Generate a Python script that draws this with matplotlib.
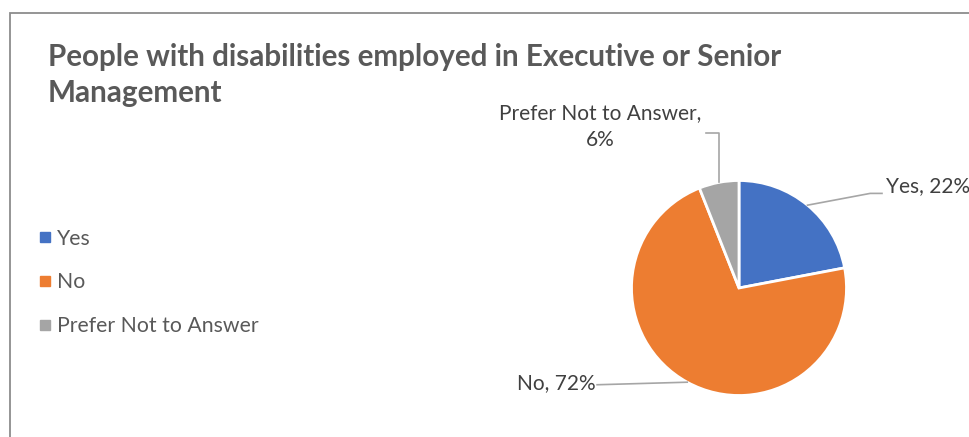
import numpy as np
import matplotlib.pyplot as plt
from matplotlib.lines import Line2D
from matplotlib.patches import Rectangle

# данные диаграммы
categories = ['Yes', 'No', 'Prefer Not to Answer']
shares = [22, 72, 6]
colors = ['#4472c4', '#ed7d31', '#a5a5a5']
title_lines = ['People with disabilities employed in Executive or Senior',
               'Management']

W, H = 970, 437
fig = plt.figure(figsize=(W / 100, H / 100), dpi=100)
plt.rcParams['font.family'] = ['Lato', 'DejaVu Sans']

# рамка области диаграммы (справа и снизу обрезана)
fig.patches.append(Rectangle((10 / W, -0.1), 1.2, (H - 13) / H + 0.1,
                             transform=fig.transFigure, fill=False,
                             edgecolor='#8c8c8c', linewidth=1.3))

# заголовок в две строки
for i, line in enumerate(title_lines):
    fig.text(48 / W, 1 - (57 + 36 * i) / H, line, ha='left', va='center',
             fontsize=21.3, fontweight='bold', color='#595959')

# круг: центр (739, 288), радиус ~107 px
cx, cy, r = 739, 288, 107.5
ax = fig.add_axes([(cx - r) / W, (H - cy - r) / H, 2 * r / W, 2 * r / H])
wedges, _ = ax.pie(shares, colors=colors, startangle=90, counterclock=False,
                   radius=1, wedgeprops=dict(edgecolor='white', linewidth=2))
ax.set_xlim(-1, 1)
ax.set_ylim(-1, 1)
ax.set_aspect('equal')
ax.axis('off')

# подписи с выносками
lab_col = '#404040'
line_col = '#a6a6a6'
fs = 15
for w, cat, val in zip(wedges, categories, shares):
    ang = np.deg2rad((w.theta1 + w.theta2) / 2)
    ex, ey = np.cos(ang), np.sin(ang)
    if cat == 'Yes':
        pts = [(ex, ey), (1.22, 0.88), (1.33, 0.88)]
        ax.plot(*zip(*pts), color=line_col, lw=1.2, clip_on=False)
        ax.text(1.37, 0.95, f'{cat}, {val}%', ha='left', va='center',
                fontsize=fs, color=lab_col, clip_on=False)
    elif cat == 'No':
        pts = [(ex, ey), (-1.32, -0.90)]
        ax.plot(*zip(*pts), color=line_col, lw=1.2, clip_on=False)
        ax.text(-1.33, -0.88, f'{cat}, {val}%', ha='right', va='center',
                fontsize=fs, color=lab_col, clip_on=False)
    else:
        pts = [(ex, ey), (ex, 1.44), (ex - 0.12, 1.44)]
        ax.plot(*zip(*pts), color=line_col, lw=1.2, clip_on=False)
        ax.text(-1.29, 1.50, f'{cat},\n{val}%', ha='center', va='center',
                fontsize=fs, color=lab_col, linespacing=1.45, clip_on=False)

# легенда
handles = [Line2D([], [], marker='s', linestyle='none', markersize=7,
                  markerfacecolor=c, markeredgecolor=c) for c in colors]
fig.legend(handles, categories, loc='upper left',
           bbox_to_anchor=(28 / W, 1 - 218 / H), frameon=False,
           fontsize=15.3, labelcolor='#595959', handlelength=0.6,
           handletextpad=0.25, labelspacing=1.12, borderpad=0)

fig.savefig('out.png', dpi=100)
